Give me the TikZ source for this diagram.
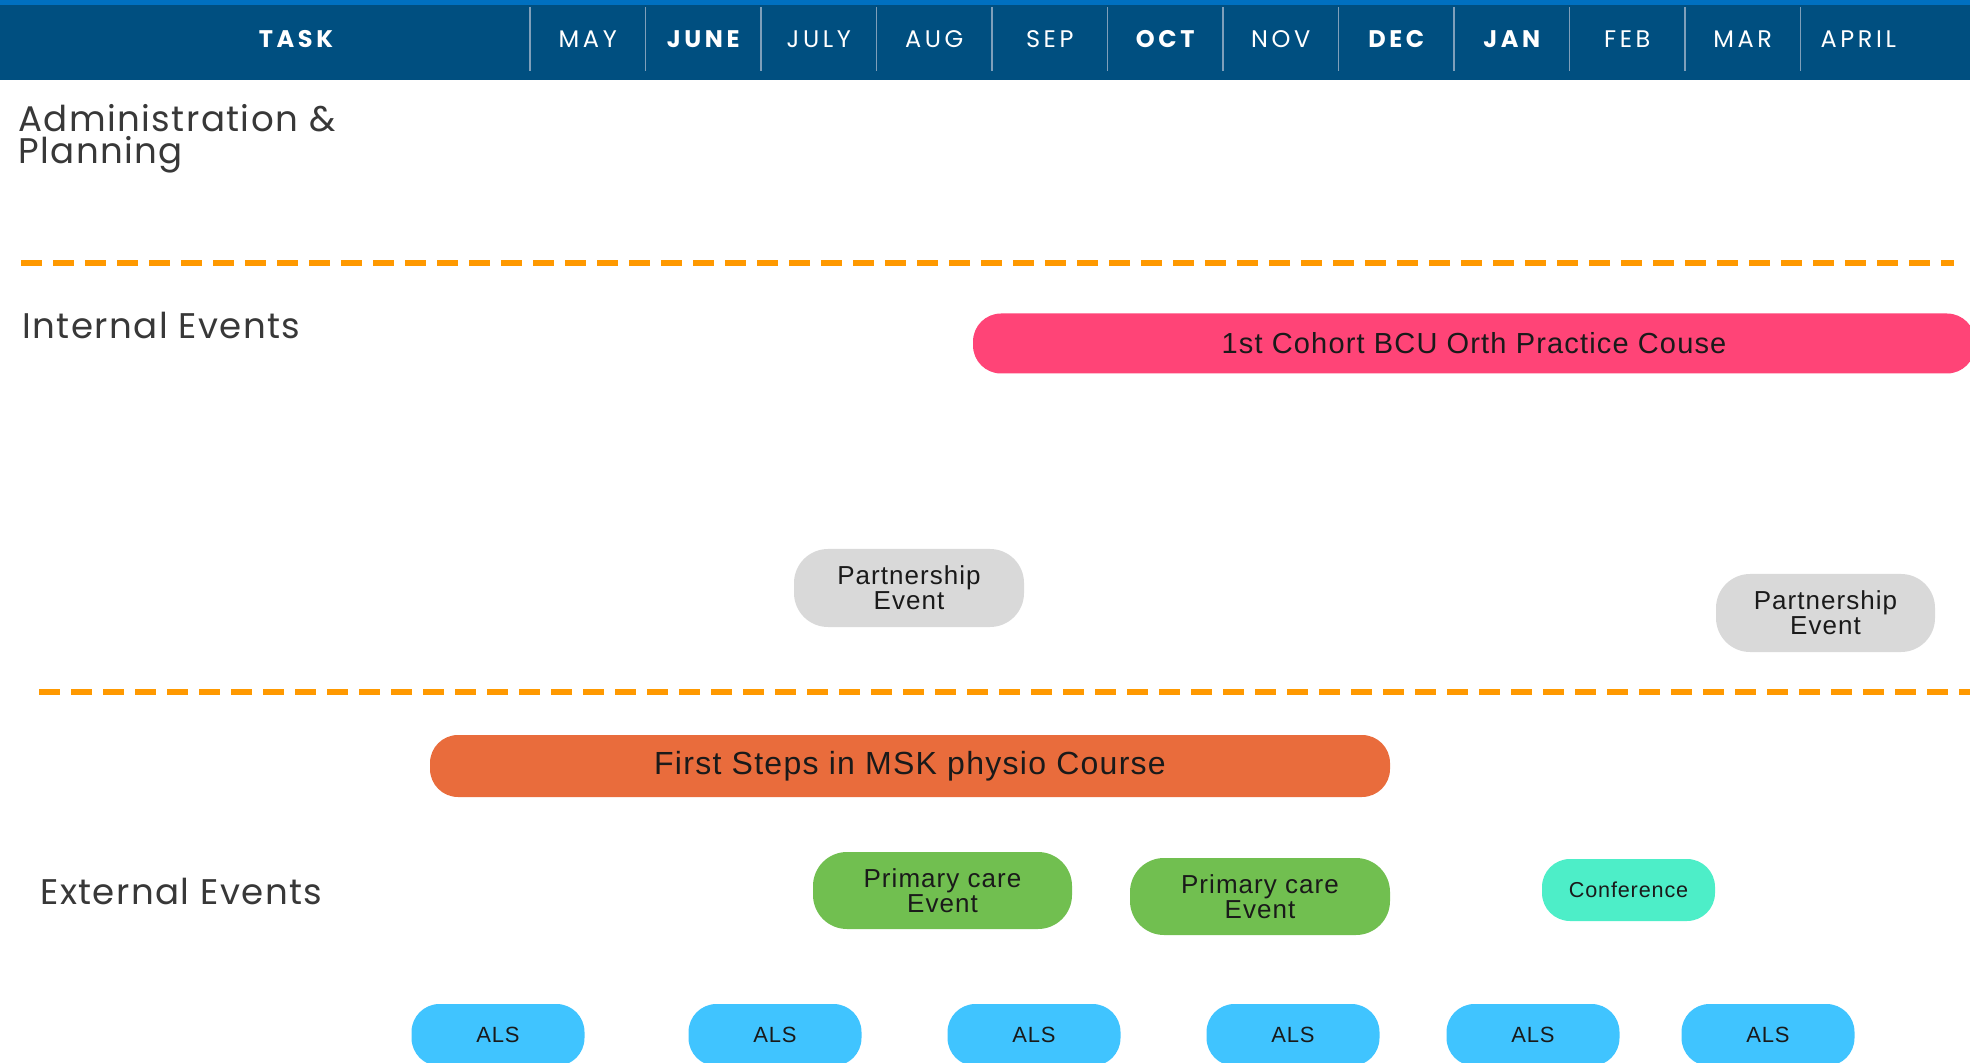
\documentclass[tikz,border=0pt]{standalone}
\usepackage{fontspec}
\setmainfont{Liberation Sans}
\newfontfamily\boxfont[LetterSpace=4]{Liberation Sans}
\newfontfamily\headfont[LetterSpace=4]{Poppins}
\newfontfamily\monthfont[LetterSpace=15]{Poppins}
\usetikzlibrary{positioning}
\definecolor{bandblue}{HTML}{004F80}
\definecolor{topblue}{HTML}{0070C0}
\definecolor{seprule}{HTML}{7F9FBA}
\definecolor{dashorange}{HTML}{FF9900}
\definecolor{cohortpink}{HTML}{FF4477}
\definecolor{courseorange}{HTML}{E96C3C}
\definecolor{partgray}{HTML}{D9D9D9}
\definecolor{primgreen}{HTML}{71BF50}
\definecolor{confteal}{HTML}{4DEEC8}
\definecolor{alsblue}{HTML}{40C4FF}
\definecolor{labelgray}{HTML}{383838}
\definecolor{boxtext}{HTML}{1A1A1A}

\begin{document}
\begin{tikzpicture}[
  x=0.5pt, y=-0.5pt,
  node distance=0pt and 0pt,
  month/.style={text=white, inner sep=0pt, outer sep=0pt, minimum width=57.75pt, minimum height=32pt,
                font=\monthfont\fontsize{12}{14}\selectfont},
  bmonth/.style={month, font=\monthfont\bfseries\fontsize{12}{14}\selectfont},
  sep/.style={draw=seprule, line width=0.6pt},
  rowlabel/.style={anchor=west, inner sep=0pt, text=labelgray, align=left,
                   font=\headfont\fontsize{17.8}{16}\selectfont},
  split/.style={draw=dashorange, line width=3pt, dash pattern=on 10.5pt off 5.5pt},
  pill/.style={rounded corners=17pt, inner sep=0pt, align=center, text=boxtext,
               font=\boxfont\fontsize{13}{12.5}\selectfont},
  bar/.style={pill, rounded corners=14pt, minimum height=30pt},
  als/.style={pill, rounded corners=14pt, fill=alsblue, minimum width=86.5pt, minimum height=31pt,
              font=\boxfont\fontsize{11}{12}\selectfont}
]
\useasboundingbox (0,0) rectangle (1970,1063);
\clip (0,0) rectangle (1970,1063);

% header band
\fill[bandblue] (0,0) rectangle (1970,80);
\fill[topblue] (0,0) rectangle (1970,5);
\node[text=white, font=\monthfont\bfseries\fontsize{12}{14}\selectfont] (task) at (296,39) {TASK};
\node[month, anchor=west] (may) at (530,39) {MAY};
\node[bmonth, right=of may] (june) {JUNE};
\node[month, right=of june] (july) {JULY};
\node[month, right=of july] (aug) {AUG};
\node[month, right=of aug] (sep) {SEP};
\node[bmonth, right=of sep] (oct) {OCT};
\node[month, right=of oct] (nov) {NOV};
\node[bmonth, right=of nov] (dec) {DEC};
\node[bmonth, right=of dec] (jan) {JAN};
\node[month, right=of jan] (feb) {FEB};
\node[month, right=of feb] (mar) {MAR};
\node[month, right=of mar] (apr) {APRIL};
\foreach \m in {may,june,july,aug,sep,oct,nov,dec,jan,feb,mar,apr}
  \draw[sep] (\m.north west) -- (\m.south west);

% rows
\node[rowlabel] (admin) at (18,139) {Administration \&\\Planning};
\draw[split] (21,263) -- (1954,263);
\node[rowlabel] (internal) at (22,325) {Internal Events};
\draw[split] (39,692) -- (1975,692);
\node[rowlabel] (external) at (40,891) {External Events};

% internal events
\node[bar, fill=cohortpink, minimum width=501pt, font=\boxfont\fontsize{14.5}{14}\selectfont]
  (cohort) at (1474,343.5) {1st Cohort BCU Orth Practice Couse};
\node[pill, fill=partgray, minimum width=115pt, minimum height=39pt]
  (partA) at (909,588) {Partnership\\Event};
\node[pill, fill=partgray, minimum width=109.5pt, minimum height=39pt]
  (partB) at (1825.5,613) {Partnership\\Event};

% external events
\node[bar, fill=courseorange, minimum width=480pt, minimum height=31pt, font=\boxfont\fontsize{16}{15}\selectfont]
  (msk) at (910,766) {First Steps in MSK physio Course};
\node[pill, fill=primgreen, minimum width=129.5pt, minimum height=38.5pt]
  (primA) at (942.5,890.5) {Primary care\\Event};
\node[pill, fill=primgreen, minimum width=130pt, minimum height=38.5pt]
  (primB) at (1260,896.5) {Primary care\\Event};
\node[pill, rounded corners=14pt, fill=confteal, minimum width=86.5pt, minimum height=31pt, font=\boxfont\fontsize{10.8}{12}\selectfont]
  (conf) at (1628.5,890) {Conference};
\foreach \x [count=\i] in {498,775,1034,1293,1533,1768}
  \node[als] (als\i) at (\x,1035) {ALS};
\end{tikzpicture}
\end{document}
